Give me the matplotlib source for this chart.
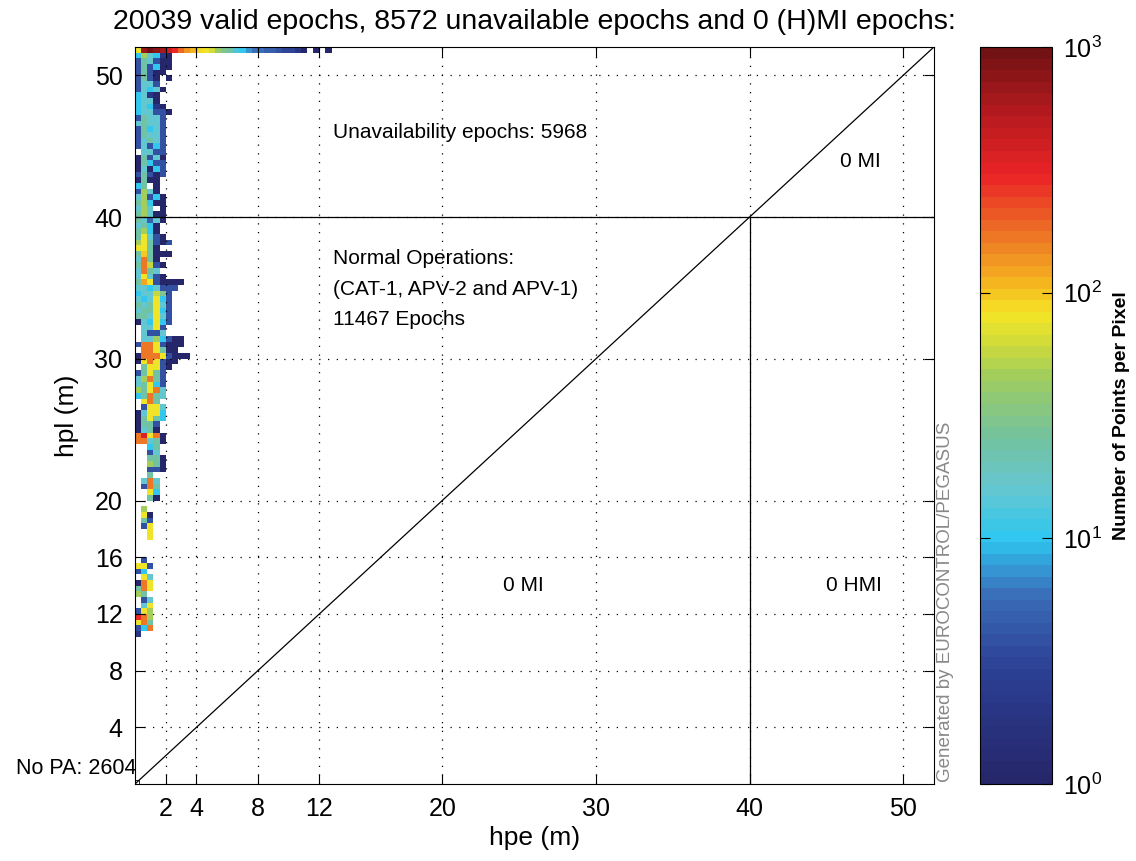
import numpy as np
import matplotlib
matplotlib.use('Agg')
import matplotlib.pyplot as plt
from matplotlib.colors import LinearSegmentedColormap, LogNorm

plt.rcParams['font.family'] = ['Liberation Sans', 'DejaVu Sans']
plt.rcParams['mathtext.default'] = 'regular'

bin_size = 0.4
n_bins = 130  # 0 .. 52 m

# counts in the clipped top row (hpl 51.6-52 m), one value per 0.4 m hpe bin
top_row = [80, 700, 900, 800, 600, 400, 300, 180, 140, 110, 85, 75, 65, 40, 30, 25,
           12, 10, 7, 6, 6, 5, 5, 4, 3, 3, 2, 1, 0, 1, 0, 1]

# counts per 0.4 m hpe bin, rows going down from hpl 51.6 m
column_rows = [
    [10, 45, 15, 10, 2, 1], [4, 25, 15, 4, 1, 1], [4, 25, 4, 10, 1, 1], [4, 25, 4, 1, 1],
    [4, 25, 4, 1, 0, 1], [4, 15, 15, 4], [4, 15, 10, 15, 1], [10, 15, 2, 1],
    [10, 15, 15, 1], [10, 15, 10, 2, 1], [10, 15, 15, 4, 4, 1], [4, 25, 15, 15, 4],
    [15, 25, 15, 15, 4], [4, 25, 10, 15, 4], [4, 25, 15, 15, 4], [4, 15, 25, 15, 4],
    [4, 15, 4, 10, 4], [0, 15, 15, 4, 4], [1, 25, 4, 15, 1], [1, 25, 10, 4, 4],
    [1, 15, 1, 10, 4], [4, 25, 4, 1, 4], [1, 25, 1, 1], [10, 25, 0, 1],
    [4, 45, 15, 1], [15, 45, 4, 10, 1], [25, 45, 10, 1, 1], [15, 45, 15, 0, 1],
    [25, 45, 15, 1, 1],
    # below hpl = 40
    [25, 15, 5, 15, 1], [15, 25, 10, 1], [25, 45, 10, 1], [25, 80, 15, 4, 1],
    [45, 80, 25, 4, 1, 4], [80, 80, 25, 1], [25, 100, 25, 1, 1, 1], [15, 160, 25, 1],
    [25, 160, 60, 4, 1], [15, 160, 25, 15], [15, 80, 15, 4, 1], [25, 120, 80, 4, 1, 1, 1, 1],
    [15, 15, 10, 15, 4, 4, 4], [10, 15, 15, 60, 30, 4], [15, 10, 15, 80, 10, 4],
    [25, 15, 25, 80, 15, 4], [15, 25, 25, 80, 10, 4], [25, 25, 15, 80, 15, 4],
    [1, 15, 10, 80, 10, 4], [0, 15, 15, 80, 4], [0, 15, 4, 4, 15],
    [0, 15, 15, 45, 10, 4, 1, 1], [4, 160, 160, 80, 4, 1, 1, 1], [0, 160, 160, 80, 25, 1, 1],
    [1, 160, 160, 160, 80, 4, 1, 1, 1], [1, 80, 160, 80, 4, 1, 1], [0, 25, 80, 80, 4, 1],
    [4, 25, 80, 25, 4], [15, 45, 160, 25, 4], [15, 25, 80, 10, 4],
    [45, 25, 80, 160, 15], [10, 25, 160, 25, 15], [0, 80, 160, 25], [0, 4, 80, 80, 15],
    [1, 15, 80, 80, 10], [1, 25, 80, 25, 10], [1, 25, 25, 4], [1, 15, 25, 1],
    [160, 350, 80, 160, 1], [160, 160, 15, 25, 1],
    # patches below 24 m
    [0, 0, 10, 25], [0, 0, 4, 15], [0, 0, 25, 25, 1], [0, 0, 45, 25, 1], [0, 0, 4, 4, 1],
    [0, 0, 25], [0, 15, 160, 15], [0, 4, 160, 25], [0, 0, 80, 10], [0, 0, 25, 1],
    [], [0, 45], [0, 80, 1], [0, 25, 4], [0, 4, 80], [0, 0, 80], [0, 0, 80],
    [], [], [], [0, 4], [80, 80, 4], [4, 10], [0, 80, 15], [1, 160, 80], [25, 160, 80],
    [45, 25], [0, 4, 15], [0, 15, 80], [4, 80, 45], [300, 160, 45], [80, 160, 25],
    [4, 10, 160], [2],
]

xticks = [2, 4, 8, 12, 20, 30, 40, 50]
yticks = [4, 8, 12, 16, 20, 30, 40, 50]

# jet-like map in 64 steps
cmap = LinearSegmentedColormap.from_list('pegasus', [
    (0.00, (0.15, 0.15, 0.42)), (0.15, (0.17, 0.25, 0.58)), (0.25, (0.23, 0.42, 0.72)),
    (0.33, (0.18, 0.78, 0.94)), (0.40, (0.40, 0.78, 0.82)), (0.47, (0.45, 0.76, 0.62)),
    (0.55, (0.62, 0.80, 0.38)), (0.60, (0.82, 0.86, 0.22)), (0.64, (0.96, 0.90, 0.15)),
    (0.68, (0.96, 0.72, 0.12)), (0.75, (0.93, 0.45, 0.15)), (0.83, (0.92, 0.14, 0.15)),
    (0.92, (0.70, 0.10, 0.12)), (1.00, (0.45, 0.07, 0.08))], N=64)

H = np.zeros((n_bins, n_bins))
H[n_bins - 1, :len(top_row)] = top_row
for k, row in enumerate(column_rows):
    H[n_bins - 2 - k, :len(row)] = row
H = np.ma.masked_equal(H, 0)
edges = np.arange(n_bins + 1) * bin_size

fig = plt.figure(figsize=(11.36, 8.61), dpi=100)
ax = fig.add_axes([0.1188, 0.0894, 0.7033, 0.856])
cax = fig.add_axes([0.8627, 0.0894, 0.0634, 0.856])

mesh = ax.pcolormesh(edges, edges, H, cmap=cmap, norm=LogNorm(1, 1000))

lw = 0.9
ax.plot([0, 52], [0, 52], color='k', lw=lw)
ax.plot([0, 52], [40, 40], color='k', lw=lw)
ax.plot([40, 40], [0, 40], color='k', lw=lw)
ax.plot([0.15], [0.15], marker='s', ms=3, mfc='none', mec='k', mew=0.6)

ax.set_xlim(0, 52)
ax.set_ylim(0, 52)
ax.set_xticks(xticks)
ax.set_yticks(yticks)
ax.grid(True, color='k', linestyle=(0, (1, 6)), linewidth=0.9)
ax.set_axisbelow(False)
ax.tick_params(direction='in', top=True, right=True, length=7, labelsize=18, pad=9)

ax.set_title('20039 valid epochs, 8572 unavailable epochs and 0 (H)MI epochs:', fontsize=20.5, pad=13)
ax.set_xlabel('hpe (m)', fontsize=19)
ax.set_ylabel('hpl (m)', fontsize=19)
ax.xaxis.set_label_coords(0.5, -0.057)
ax.yaxis.set_label_coords(-0.070, 0.5)

ax.text(12.9, 46.0, 'Unavailability epochs: 5968', fontsize=15, va='center')
ax.text(12.9, 37.05, 'Normal Operations:', fontsize=15, va='center')
ax.text(12.9, 34.9, '(CAT-1, APV-2 and APV-1)', fontsize=15, va='center')
ax.text(12.9, 32.8, '11467 Epochs', fontsize=15, va='center')
ax.text(47.2, 43.9, '0 MI', fontsize=15, ha='center', va='center')
ax.text(25.3, 14.0, '0 MI', fontsize=15, ha='center', va='center')
ax.text(46.8, 14.0, '0 HMI', fontsize=15, ha='center', va='center')
ax.text(0.1, 1.13, 'No PA: 2604', fontsize=15.5, ha='right', va='center', clip_on=False)

fig.text(0.832, 0.0918, 'Generated by EUROCONTROL/PEGASUS', rotation=90, color='#888888',
         fontsize=13.5, ha='center', va='bottom', family=['Liberation Sans Narrow', 'Liberation Sans'])

cb = fig.colorbar(mesh, cax=cax)
cb.set_ticks([1, 10, 100, 1000])
cb.minorticks_off()
cax.tick_params(which='both', direction='in', left=True, right=True, length=7, labelsize=18, pad=8)
cb.set_label('Number of Points per Pixel', fontsize=14, fontweight='bold', labelpad=8)

fig.savefig('out.png', dpi=100)
